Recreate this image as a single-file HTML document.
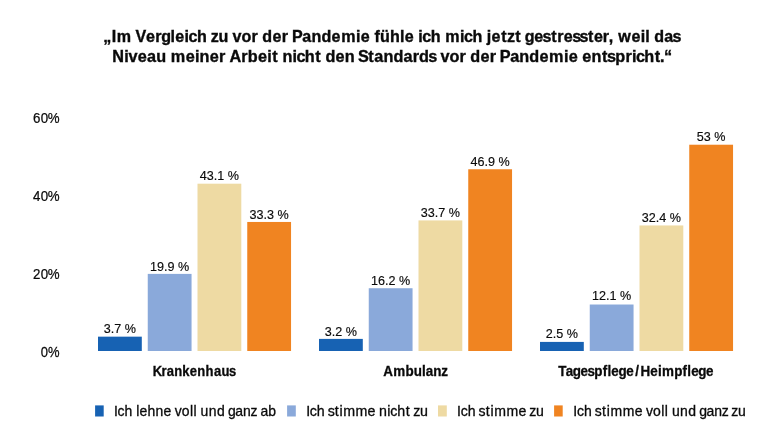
<!DOCTYPE html>
<html lang="de">
<head>
<meta charset="utf-8">
<title>Diagramm</title>
<style>
html,body{margin:0;padding:0;background:#fff;}
body{width:770px;height:446px;overflow:hidden;}
svg{display:block;}
text{font-family:"Liberation Sans",sans-serif;fill:#0a0a0a;stroke:#0a0a0a;stroke-width:0.25px;white-space:pre;font-variant-ligatures:none;font-kerning:none;}
.t{font-weight:bold;font-size:16.0px;stroke-width:0.35px;}
.c{font-weight:bold;font-size:13.8px;stroke-width:0.3px;}
.y{font-size:14.5px;}
.l{font-size:13.9px;stroke-width:0.3px;}
.d{font-size:12.6px;stroke-width:0.15px;text-anchor:middle;}
</style>
</head>
<body>
<svg width="770" height="446" viewBox="0 0 770 446">
<rect x="0" y="0" width="770" height="446" fill="#ffffff"/>
<!-- title -->
<text class="t" transform="scale(1.0054,1)" y="42.1" x="102.74 111.03 116.16 130.70 134.70 145.28 154.48 160.30 169.64 174.37 183.55 187.49 195.92 205.66 209.63 217.37 227.11 231.29 240.15 250.21 256.50 260.92 271.01 280.32 286.61 290.35 300.58 309.71 319.67 329.77 339.33 354.05 358.78 367.78 372.37 378.07 388.03 397.96 402.68 411.68 416.06 420.00 428.43 438.17 442.93 457.66 461.59 470.02 479.77 484.24 488.99 498.60 504.18 512.42 518.18 521.92 531.33 539.60 548.20 554.17 560.70 569.08 576.38 584.87 590.86 599.49 605.40 609.89 614.83 628.13 637.31 641.87 646.24 650.66 660.66 668.95">„Im Vergleich zu vor der Pandemie fühle ich mich jetzt gestresster, weil das</text>
<text class="t" transform="scale(1.0161,1)" y="62.4" x="110.45 122.31 126.60 135.49 144.65 153.67 163.34 168.00 182.77 191.87 196.39 206.38 215.61 221.84 225.93 237.43 243.85 253.84 262.95 267.95 273.65 277.99 287.84 291.72 299.97 310.22 315.92 320.26 330.25 339.37 349.04 352.34 362.45 368.30 377.32 387.18 397.08 406.11 412.42 421.45 429.42 433.53 442.29 452.27 458.50 462.84 472.83 482.06 488.29 491.96 502.09 511.12 520.98 530.97 540.40 555.02 559.68 568.60 573.08 582.11 592.36 597.43 605.58 615.55 621.96 625.83 634.09 644.34 649.59 653.43">Niveau meiner Arbeit nicht den Standards vor der Pandemie entspricht.“</text>
<!-- y axis -->
<text class="y" transform="scale(0.9173,1)" y="122.9" x="35.85 44.36 52.20">60%</text>
<text class="y" transform="scale(0.9173,1)" y="200.9" x="35.85 44.36 52.20">40%</text>
<text class="y" transform="scale(0.9173,1)" y="278.9" x="35.85 44.36 52.20">20%</text>
<text class="y" transform="scale(0.8978,1)" y="356.9" x="45.41 53.47">0%</text>
<!-- bars -->
<rect x="98.00" y="336.66" width="43.8" height="14.34" fill="#1762b3"/>
<rect x="147.75" y="273.89" width="43.8" height="77.11" fill="#8aa9da"/>
<rect x="197.50" y="183.69" width="43.8" height="167.31" fill="#eedaa3"/>
<rect x="247.25" y="221.96" width="43.8" height="129.04" fill="#f08421"/>
<rect x="319.00" y="338.90" width="43.8" height="12.10" fill="#1762b3"/>
<rect x="368.75" y="288.23" width="43.8" height="62.77" fill="#8aa9da"/>
<rect x="418.50" y="220.41" width="43.8" height="130.59" fill="#eedaa3"/>
<rect x="468.25" y="169.26" width="43.8" height="181.74" fill="#f08421"/>
<rect x="540.00" y="341.91" width="43.8" height="9.09" fill="#1762b3"/>
<rect x="589.75" y="304.51" width="43.8" height="46.49" fill="#8aa9da"/>
<rect x="639.50" y="225.45" width="43.8" height="125.55" fill="#eedaa3"/>
<rect x="689.25" y="144.72" width="43.8" height="206.28" fill="#f08421"/>
<!-- data labels -->
<text class="d" x="119.90" y="333.31">3.7 %</text>
<text class="d" x="169.65" y="270.54">19.9 %</text>
<text class="d" x="219.40" y="179.89">43.1 %</text>
<text class="d" x="269.15" y="218.61">33.3 %</text>
<text class="d" x="340.90" y="335.75">3.2 %</text>
<text class="d" x="390.65" y="284.88">16.2 %</text>
<text class="d" x="440.40" y="217.06">33.7 %</text>
<text class="d" x="490.15" y="165.91">46.9 %</text>
<text class="d" x="561.90" y="337.96">2.5 %</text>
<text class="d" x="611.65" y="300.46">12.1 %</text>
<text class="d" x="661.40" y="222.10">32.4 %</text>
<text class="d" x="711.15" y="141.12">53 %</text>
<!-- category labels -->
<text class="c" transform="scale(0.9438,1)" y="375.6" x="161.75 171.14 176.73 184.76 193.21 201.01 209.12 217.87 226.66 234.68 242.69">Krankenhaus</text>
<text class="c" transform="scale(0.9731,1)" y="375.6" x="393.95 404.03 416.63 425.13 433.62 437.55 445.32 453.48">Ambulanz</text>
<text class="c" transform="scale(0.9729,1)" y="375.6" x="573.94 581.54 588.74 596.77 603.91 610.89 619.52 624.35 628.35 635.63 643.65 652.96 658.29 668.41 676.26 680.42 692.99 701.61 706.44 710.45 717.72 725.75">Tagespflege/Heimpflege</text>
<!-- legend -->
<rect x="95.1" y="405.4" width="8.6" height="11.1" fill="#1762b3"/>
<text class="l" transform="scale(1.0045,1)" y="416.0" x="113.41 117.07 123.99 131.73 135.63 138.92 146.81 154.92 162.81 170.32 173.94 181.03 189.19 192.73 195.86 199.72 207.83 215.94 223.67 226.97 234.15 241.90 249.39 255.73 259.23 266.99">Ich lehne voll und ganz ab</text>
<rect x="287.1" y="405.4" width="8.7" height="11.1" fill="#8aa9da"/>
<text class="l" transform="scale(1.0245,1)" y="416.0" x="298.87 302.43 309.21 316.83 319.87 326.82 331.48 335.01 347.10 358.83 366.24 369.99 378.02 381.03 387.74 396.11 400.36 403.47 410.01">Ich stimme nicht zu</text>
<rect x="438.0" y="405.4" width="8.8" height="11.1" fill="#eedaa3"/>
<text class="l" transform="scale(1.0138,1)" y="416.0" x="450.88 454.50 461.35 469.03 472.12 479.13 483.83 487.45 499.66 511.50 518.96 522.13 528.74">Ich stimme zu</text>
<rect x="554.1" y="405.4" width="8.6" height="11.1" fill="#f08421"/>
<text class="l" transform="scale(1.0070,1)" y="416.0" x="569.35 573.00 579.90 587.62 590.74 597.79 602.52 606.19 618.48 630.38 637.89 641.49 648.56 656.71 660.24 663.36 667.21 675.30 683.38 691.10 694.39 701.55 709.28 716.76 723.08 726.28 732.94">Ich stimme voll und ganz zu</text>
</svg>
</body>
</html>
